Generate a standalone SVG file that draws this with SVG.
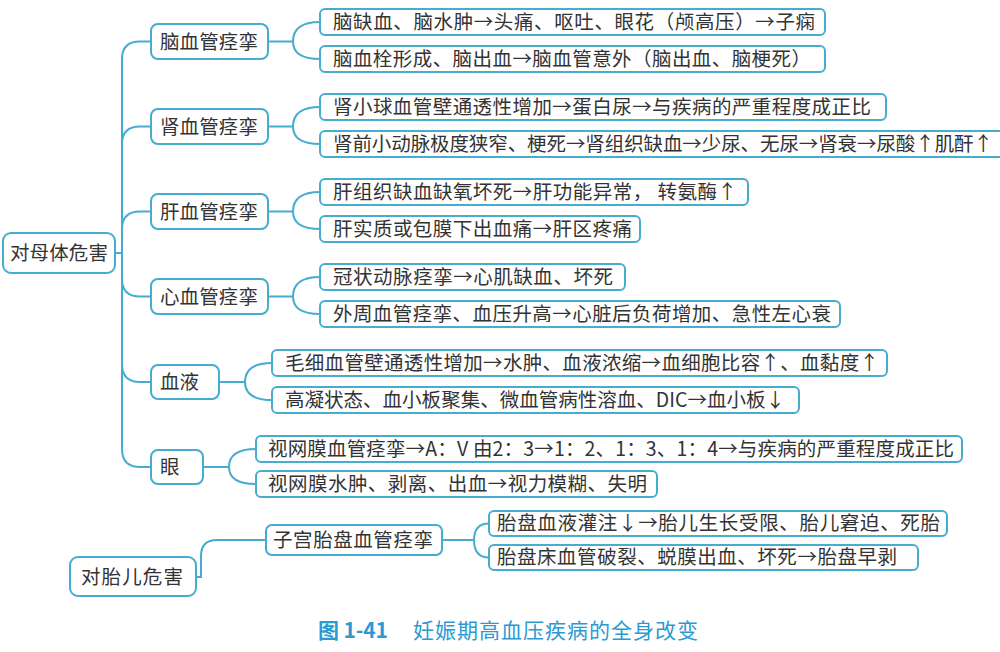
<svg xmlns="http://www.w3.org/2000/svg" width="1000" height="652" viewBox="0 0 1000 652">
<style>
.box{fill:#fff;stroke:#46acd0;stroke-width:2}
.t{font-family:"Noto Sans CJK SC","Noto Sans",sans-serif;font-size:19.5px;fill:#333}
.c{fill:none;stroke:#46acd0;stroke-width:2}
.cap{font-family:"Noto Sans CJK SC","Noto Sans",sans-serif;fill:#2b9ad4}
</style>
<rect width="1000" height="652" fill="#fff"/>
<g id="connectors">
<path class="c" d="M115,253 H122 M122,59 V449"/>
<path class="c" d="M122,59 Q122,41.5 140,41.5 H151"/>
<path class="c" d="M122,144 Q122,126.5 140,126.5 H151"/>
<path class="c" d="M122,229 Q122,211.5 140,211.5 H151"/>
<path class="c" d="M122,279 Q122,296.5 140,296.5 H151"/>
<path class="c" d="M122,364 Q122,382 140,382 H151"/>
<path class="c" d="M122,449 Q122,467 140,467 H151"/>
<path class="c" d="M268,41.5 H293 M320,22 Q293,22 293,41.5 Q293,59 320,59"/>
<path class="c" d="M268,126.5 H293 M320,107 Q293,107 293,126.5 Q293,144 320,144"/>
<path class="c" d="M268,211.5 H293 M320,192 Q293,192 293,211.5 Q293,229 320,229"/>
<path class="c" d="M268,296.5 H293 M320,277 Q293,277 293,296.5 Q293,314 320,314"/>
<path class="c" d="M219,382 H245 M272,363 Q245,363 245,382 Q245,400 272,400"/>
<path class="c" d="M203,467 H229 M256,449 Q229,449 229,467 Q229,484 256,484"/>
<path class="c" d="M196,577 H201 V556 Q201,540 217,540 H266"/>
<path class="c" d="M442,540 H474 M489,523.5 Q474,523.5 474,540 Q474,557.5 489,557.5"/>
</g>
<g id="root-mother"><rect class="box" x="3" y="233" width="112" height="40" rx="8"/><text class="t" x="10" y="260" textLength="98">对母体危害</text></g>
<g id="brain"><rect class="box" x="151" y="24" width="117" height="35" rx="7"/><text class="t" x="160" y="48.5" textLength="98">脑血管痉挛</text></g>
<g id="kidney"><rect class="box" x="151" y="109" width="117" height="35" rx="7"/><text class="t" x="160" y="133.5" textLength="98">肾血管痉挛</text></g>
<g id="liver"><rect class="box" x="151" y="194" width="117" height="35" rx="7"/><text class="t" x="160" y="218.5" textLength="98">肝血管痉挛</text></g>
<g id="heart"><rect class="box" x="151" y="279" width="117" height="35" rx="7"/><text class="t" x="160" y="303.5" textLength="98">心血管痉挛</text></g>
<g id="blood"><rect class="box" x="151" y="365" width="68" height="34" rx="7"/><text class="t" x="160" y="389">血液</text></g>
<g id="eye"><rect class="box" x="151" y="450" width="52" height="34" rx="7"/><text class="t" x="160" y="474">眼</text></g>
<g id="brain-1"><rect class="box" x="320" y="9" width="505" height="26" rx="5"/><text class="t" x="333" y="29" textLength="482">脑缺血、脑水肿→头痛、呕吐、眼花（颅高压）→子痫</text></g>
<g id="brain-2"><rect class="box" x="320" y="46" width="505" height="26" rx="5"/><text class="t" x="333" y="66" textLength="478">脑血栓形成、脑出血→脑血管意外（脑出血、脑梗死）</text></g>
<g id="kidney-1"><rect class="box" x="320" y="94" width="566" height="26" rx="5"/><text class="t" x="333" y="114" textLength="538">肾小球血管壁通透性增加→蛋白尿→与疾病的严重程度成正比</text></g>
<g id="kidney-2"><rect class="box" x="320" y="131" width="700" height="26" rx="5"/><text class="t" x="333" y="151" textLength="660">肾前小动脉极度狭窄、梗死→肾组织缺血→少尿、无尿→肾衰→尿酸↑肌酐↑</text></g>
<g id="liver-1"><rect class="box" x="320" y="179" width="428" height="26" rx="5"/><text class="t" x="333" y="199" textLength="404">肝组织缺血缺氧坏死→肝功能异常， 转氨酶↑</text></g>
<g id="liver-2"><rect class="box" x="320" y="216" width="320" height="26" rx="5"/><text class="t" x="333" y="236" textLength="299">肝实质或包膜下出血痛→肝区疼痛</text></g>
<g id="heart-1"><rect class="box" x="320" y="264" width="305" height="26" rx="5"/><text class="t" x="333" y="284" textLength="280">冠状动脉痉挛→心肌缺血、坏死</text></g>
<g id="heart-2"><rect class="box" x="320" y="301" width="520" height="26" rx="5"/><text class="t" x="333" y="321" textLength="498">外周血管痉挛、血压升高→心脏后负荷增加、急性左心衰</text></g>
<g id="blood-1"><rect class="box" x="272" y="350" width="615" height="26" rx="5"/><text class="t" x="285" y="370" textLength="594">毛细血管壁通透性增加→水肿、血液浓缩→血细胞比容↑、血黏度↑</text></g>
<g id="blood-2"><rect class="box" x="272" y="387" width="527" height="26" rx="5"/><text class="t" x="285" y="407" textLength="500">高凝状态、血小板聚集、微血管病性溶血、DIC→血小板↓</text></g>
<g id="eye-1"><rect class="box" x="256" y="436" width="706" height="26" rx="5"/><text class="t" x="268" y="456" textLength="686">视网膜血管痉挛→A：V 由2：3→1：2、1：3、1：4→与疾病的严重程度成正比</text></g>
<g id="eye-2"><rect class="box" x="256" y="471" width="401" height="26" rx="5"/><text class="t" x="268" y="491" textLength="379">视网膜水肿、剥离、出血→视力模糊、失明</text></g>
<g id="root-fetus"><rect class="box" x="70" y="557" width="126" height="39" rx="8"/><text class="t" x="81" y="584" textLength="102">对胎儿危害</text></g>
<g id="uteroplacental"><rect class="box" x="266" y="525" width="176" height="30" rx="6"/><text class="t" x="273" y="547" textLength="160">子宫胎盘血管痉挛</text></g>
<g id="fetus-1"><rect class="box" x="489" y="511" width="458" height="25" rx="5"/><text class="t" x="497" y="530" textLength="443">胎盘血液灌注↓→胎儿生长受限、胎儿窘迫、死胎</text></g>
<g id="fetus-2"><rect class="box" x="489" y="545" width="429" height="25" rx="5"/><text class="t" x="497" y="564" textLength="400">胎盘床血管破裂、蜕膜出血、坏死→胎盘早剥</text></g>
<g id="caption"><text class="cap" x="318" y="638" font-size="21" font-weight="bold" textLength="70">图 1-41</text><text class="cap" x="413" y="638" font-size="21" textLength="285">妊娠期高血压疾病的全身改变</text></g>
</svg>
